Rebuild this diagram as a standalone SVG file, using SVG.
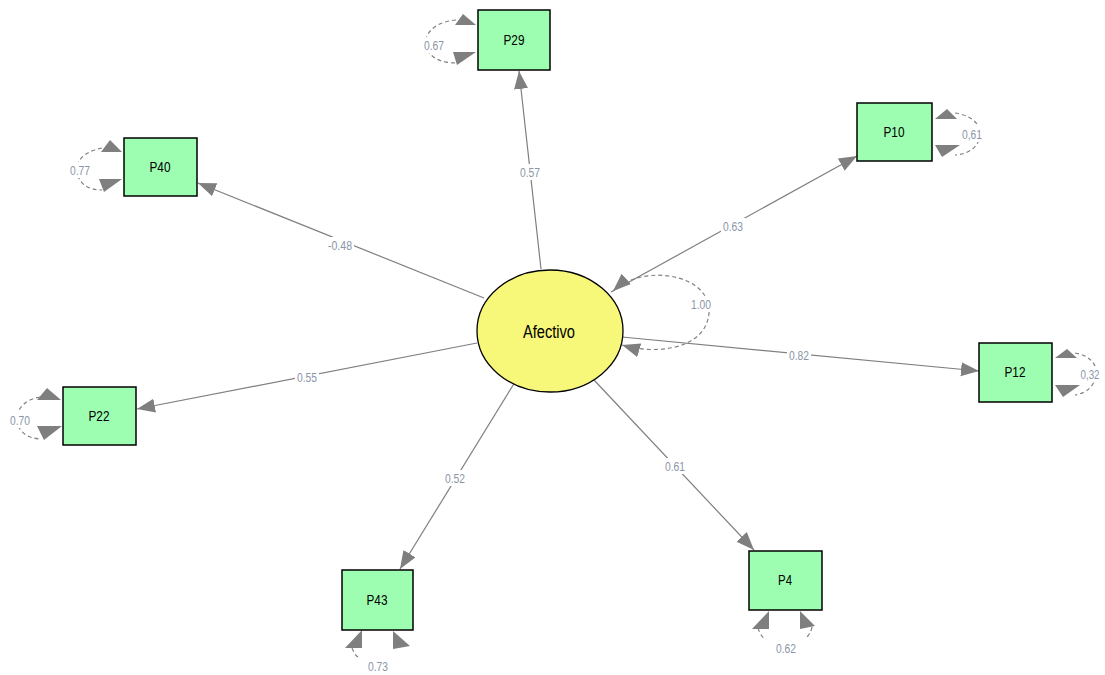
<svg xmlns="http://www.w3.org/2000/svg" width="1105" height="675" viewBox="0 0 1105 675">
  <style>
    .box { fill: #9dfdb0; stroke: #000; stroke-width: 1.5; }
    .lat { fill: #f7f77a; stroke: #000; stroke-width: 1.3; }
    .name { font-family: "Liberation Sans", Arial, sans-serif; font-size: 14px; fill: #000; text-anchor: middle; }
    .path { stroke: #7f7f7f; stroke-width: 1.2; fill: none; }
    .loop { stroke: #808080; stroke-width: 1.2; fill: none; stroke-dasharray: 4 3; }
    .head { fill: #7f7f7f; }
    .coef { font-family: "Liberation Sans", Arial, sans-serif; font-size: 13px; fill: #8a95a8; text-anchor: middle; }
    .bg { fill: #fff; }
  </style>
  <defs>
    <marker id="arrow" markerUnits="userSpaceOnUse" markerWidth="20" markerHeight="16" refX="18" refY="7" orient="auto-start-reverse">
      <path d="M0,0 L18,7 L0,14 Z" fill="#7f7f7f"/>
    </marker>
  </defs>

  <rect width="1105" height="675" fill="#fff"/>

  <!-- structural paths from the latent factor -->
  <g id="connectors">
    <line class="path" x1="541" y1="269" x2="519" y2="71" marker-end="url(#arrow)"/>
    <line class="path" x1="484" y1="298" x2="198" y2="183" marker-end="url(#arrow)"/>
    <line class="path" x1="611" y1="292" x2="857" y2="156" marker-end="url(#arrow)"/>
    <line class="path" x1="622" y1="337" x2="979" y2="371" marker-end="url(#arrow)"/>
    <line class="path" x1="477" y1="343" x2="137" y2="409" marker-end="url(#arrow)"/>
    <line class="path" x1="515" y1="382" x2="400" y2="569" marker-end="url(#arrow)"/>
    <line class="path" x1="594" y1="380" x2="754" y2="550" marker-end="url(#arrow)"/>
    <!-- factor variance -->
    <path class="loop" d="M613,291 C645,262 712,275 709,313 C706,350 655,355 622,345" marker-start="url(#arrow)" marker-end="url(#arrow)"/>

    <!-- coefficient labels -->
    <rect class="bg" x="518" y="164" width="24" height="16"/>
    <text class="coef" x="530" y="177" textLength="20" lengthAdjust="spacingAndGlyphs">0.57</text>
    <rect class="bg" x="326" y="237" width="28" height="16"/>
    <text class="coef" x="340" y="250" textLength="24" lengthAdjust="spacingAndGlyphs">-0.48</text>
    <rect class="bg" x="721" y="218" width="24" height="16"/>
    <text class="coef" x="733" y="231" textLength="20" lengthAdjust="spacingAndGlyphs">0.63</text>
    <rect class="bg" x="689" y="296" width="24" height="16"/>
    <text class="coef" x="701" y="309" textLength="20" lengthAdjust="spacingAndGlyphs">1.00</text>
    <rect class="bg" x="787" y="347" width="24" height="16"/>
    <text class="coef" x="799" y="360" textLength="20" lengthAdjust="spacingAndGlyphs">0.82</text>
    <rect class="bg" x="295" y="369" width="24" height="16"/>
    <text class="coef" x="307" y="382" textLength="20" lengthAdjust="spacingAndGlyphs">0.55</text>
    <rect class="bg" x="443" y="470" width="24" height="16"/>
    <text class="coef" x="455" y="483" textLength="20" lengthAdjust="spacingAndGlyphs">0.52</text>
    <rect class="bg" x="663" y="458" width="24" height="16"/>
    <text class="coef" x="675" y="471" textLength="20" lengthAdjust="spacingAndGlyphs">0.61</text>
  </g>

  <!-- latent factor -->
  <g id="Afectivo">
    <ellipse class="lat" cx="550" cy="331" rx="73" ry="61"/>
    <text class="name" x="549" y="338" style="font-size:18px" textLength="52" lengthAdjust="spacingAndGlyphs">Afectivo</text>
  </g>

  <!-- observed items with error variances -->
  <g id="P29">
    <path class="loop" d="M456,20 C432,22 424,36 426,45 C428,56 438,63 457,63"/>
    <rect class="bg" x="423" y="37" width="22" height="16"/>
    <text class="coef" x="434" y="50" textLength="20" lengthAdjust="spacingAndGlyphs">0.67</text>
    <polygon class="head" points="455,25 463,14 476,25"/>
    <polygon class="head" points="453,52 476,52 457,65"/>
    <rect class="box" x="478" y="10" width="72" height="60"/>
    <text class="name" x="514" y="45" textLength="21" lengthAdjust="spacingAndGlyphs">P29</text>
  </g>

  <g id="P40">
    <path class="loop" d="M102,148 C82,152 76,162 77,171 C78,182 86,190 102,190"/>
    <rect class="bg" x="69" y="162" width="22" height="16"/>
    <text class="coef" x="80" y="175" textLength="20" lengthAdjust="spacingAndGlyphs">0.77</text>
    <polygon class="head" points="101,152 110,140 122,152"/>
    <polygon class="head" points="99,179 122,179 104,192"/>
    <rect class="box" x="124" y="138" width="73" height="58"/>
    <text class="name" x="160" y="172" textLength="21" lengthAdjust="spacingAndGlyphs">P40</text>
  </g>

  <g id="P10">
    <path class="loop" d="M955,113 C975,116 981,127 980,135 C979,146 970,154 955,155"/>
    <rect class="bg" x="961" y="126" width="22" height="16"/>
    <text class="coef" x="972" y="139" textLength="20" lengthAdjust="spacingAndGlyphs">0,61</text>
    <polygon class="head" points="935,119 947,109 957,119"/>
    <polygon class="head" points="935,145 960,145 942,157"/>
    <rect class="box" x="857" y="103" width="75" height="58"/>
    <text class="name" x="894" y="137" textLength="21" lengthAdjust="spacingAndGlyphs">P10</text>
  </g>

  <g id="P22">
    <path class="loop" d="M40,397 C22,400 16,412 17,420 C18,431 26,438 40,439"/>
    <rect class="bg" x="9" y="412" width="22" height="16"/>
    <text class="coef" x="20" y="425" textLength="20" lengthAdjust="spacingAndGlyphs">0.70</text>
    <polygon class="head" points="37,400 47,388 61,400"/>
    <polygon class="head" points="37,426 62,426 44,440"/>
    <rect class="box" x="63" y="387" width="73" height="58"/>
    <text class="name" x="99" y="421" textLength="21" lengthAdjust="spacingAndGlyphs">P22</text>
  </g>

  <g id="P12">
    <path class="loop" d="M1075,353 C1092,356 1097,366 1096,374 C1095,385 1088,393 1075,395"/>
    <rect class="bg" x="1080" y="366" width="21" height="16"/>
    <text class="coef" x="1090" y="379" textLength="19" lengthAdjust="spacingAndGlyphs">0,32</text>
    <polygon class="head" points="1055,358 1067,349 1077,358"/>
    <polygon class="head" points="1055,385 1080,385 1063,397"/>
    <rect class="box" x="979" y="343" width="73" height="59"/>
    <text class="name" x="1015" y="377" textLength="21" lengthAdjust="spacingAndGlyphs">P12</text>
  </g>

  <g id="P43">
    <path class="loop" d="M352,648 C355,655 357,657 360,658"/>
    <text class="coef" x="378" y="671" textLength="20" lengthAdjust="spacingAndGlyphs">0.73</text>
    <polygon class="head" points="362,630 362,648 345,648"/>
    <polygon class="head" points="393,631 393,649 410,646"/>
    <rect class="box" x="342" y="570" width="71" height="60"/>
    <text class="name" x="377" y="605" textLength="21" lengthAdjust="spacingAndGlyphs">P43</text>
  </g>

  <g id="P4">
    <path class="loop" d="M758,628 C760,634 762,637 765,639"/>
    <path class="loop" d="M812,627 C811,632 809,635 806,638"/>
    <text class="coef" x="786" y="653" textLength="20" lengthAdjust="spacingAndGlyphs">0.62</text>
    <polygon class="head" points="769,611 769,629 752,629"/>
    <polygon class="head" points="800,611 800,629 815,626"/>
    <rect class="box" x="749" y="551" width="73" height="59"/>
    <text class="name" x="785" y="585" textLength="14" lengthAdjust="spacingAndGlyphs">P4</text>
  </g>
</svg>
